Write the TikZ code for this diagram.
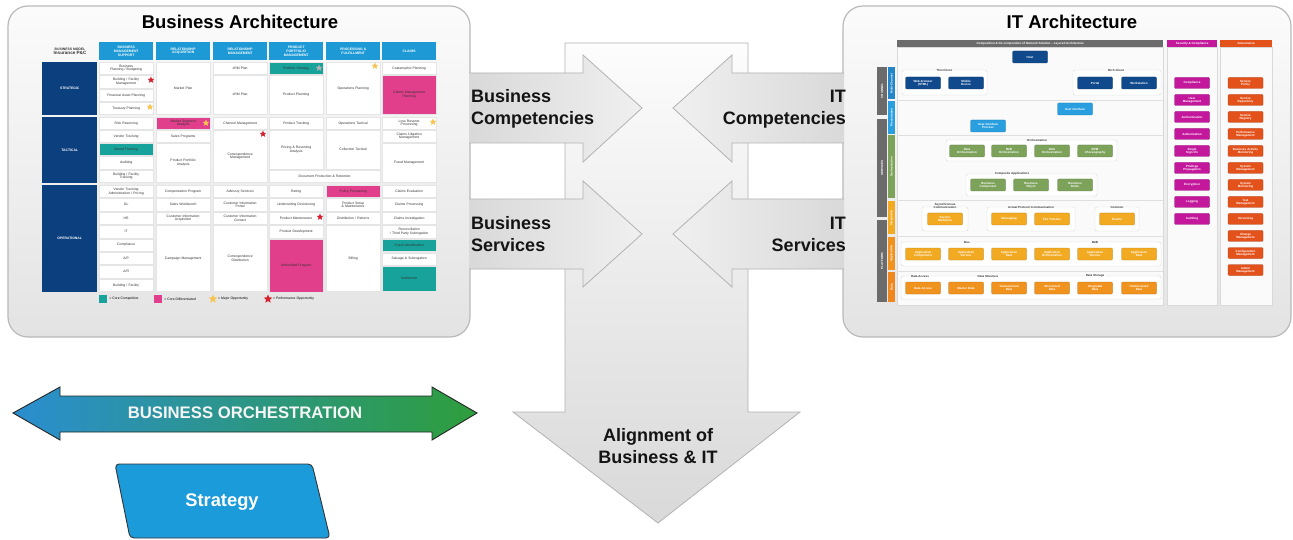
\documentclass[tikz,border=0pt]{standalone}
\usepackage{fontspec}
\setmainfont{Liberation Sans}
\usetikzlibrary{shapes.geometric, positioning}

% colours
\definecolor{hdblue}{HTML}{1D9AD6}
\definecolor{navy}{HTML}{0C3F7E}
\definecolor{coreteal}{HTML}{17A39B}
\definecolor{corepink}{HTML}{E13F8B}
\definecolor{staryellow}{HTML}{F6C453}
\definecolor{starred}{HTML}{D5202E}
\definecolor{itgrey}{HTML}{6B6B6B}
\definecolor{itnavy}{HTML}{114A8C}
\definecolor{itsky}{HTML}{2A9FE0}
\definecolor{itgreen}{HTML}{7DA25A}
\definecolor{itamber}{HTML}{F2AA22}
\definecolor{itorange}{HTML}{F0921E}
\definecolor{itmagenta}{HTML}{C3179C}
\definecolor{itred}{HTML}{E4521B}
\definecolor{orchblue}{HTML}{2A8ED0}
\definecolor{orchgreen}{HTML}{2E9E3C}
\definecolor{stratblue}{HTML}{1C9BDB}

\newcommand{\cellfont}{\fontsize{3.4}{3.9}\selectfont}
\newcommand{\boxfont}{\fontsize{3}{3.4}\selectfont\bfseries}

\begin{document}
\begin{tikzpicture}[
    x=1pt, y=-1pt,
    panel/.style={draw=gray!55, line width=1.2pt, rounded corners=20pt, top color=gray!3, bottom color=gray!22},
    flowarrow/.style={draw=gray!60, line width=0.8pt},
    bigtitle/.style={font=\fontsize{18.5}{20}\selectfont\bfseries},
    arrowtext/.style={font=\fontsize{18}{22}\selectfont\bfseries, text=black!92, inner sep=0pt},
    bhead/.style={fill=hdblue, text=white, font=\cellfont\bfseries, minimum width=54pt, minimum height=18pt, text width=52pt, align=center, inner sep=0pt, anchor=north west},
    bcell/.style={fill=white, draw=gray!20, line width=0.3pt, font=\cellfont, text=black!80, minimum width=54pt, text width=50pt, align=center, inner sep=0pt, anchor=north west},
    bside/.style={fill=navy, text=white, font=\cellfont\bfseries, minimum width=55pt, inner sep=0pt, anchor=north west},
    starmark/.style={star, star points=5, star point ratio=2.2, minimum size=7pt, inner sep=0pt, fill=#1},
    legbox/.style={fill=#1, minimum size=8pt, inner sep=0pt},
    legtext/.style={font=\cellfont, anchor=west, inner sep=1pt},
    ithead/.style={text=white, font=\boxfont, minimum height=7pt, inner sep=0pt, anchor=north west},
    itframe/.style={draw=gray!30, fill=white!96!gray},
    itbar/.style={rotate=90, text=white, font=\boxfont, inner sep=0pt},
    itbox/.style={fill=#1, draw=#1!75!black, line width=0.3pt, text=white, font=\boxfont, minimum width=35pt, minimum height=12pt, text width=33pt, align=center, inner sep=0pt, rounded corners=1pt},
    itgroup/.style={draw=gray!30, fill=white, rounded corners=2pt},
    grouplbl/.style={font=\boxfont, text=black!80, inner sep=0.6pt, fill=white, align=center}
]
\useasboundingbox (0,0) rectangle (1293,540);

% Alignment arrow (centre, behind)
\draw[flowarrow, top color=gray!2, bottom color=gray!30] (565,43) -- (748,43) -- (748,412) -- (800,412) -- (658,523) -- (513,412) -- (565,412) -- cycle;

% Panels
\path[panel] (8,6) rectangle (470,337);
\path[panel] (843,6) rectangle (1291,337);

% Side arrows
\draw[flowarrow, left color=gray!30, right color=gray!12] (469,73) -- (583,73) -- (583,55) -- (642,108) -- (583,162) -- (583,143) -- (469,143);
\draw[flowarrow, left color=gray!30, right color=gray!12] (469,199) -- (583,199) -- (583,181) -- (642,234) -- (583,287) -- (583,269) -- (469,269);
\draw[flowarrow, left color=gray!12, right color=gray!30] (844,73) -- (732,73) -- (732,55) -- (673,108) -- (732,162) -- (732,143) -- (844,143);
\draw[flowarrow, left color=gray!12, right color=gray!30] (844,199) -- (732,199) -- (732,181) -- (673,234) -- (732,287) -- (732,269) -- (844,269);

\node[arrowtext, anchor=west, align=left] (bcomp) at (471,109) {Business\\Competencies};
\node[arrowtext, anchor=west, align=left] (bserv) at (471,234) {Business\\Services};
\node[arrowtext, anchor=east, align=right] (itcomp) at (846,109) {IT\\Competencies};
\node[arrowtext, anchor=east, align=right] (itserv) at (846,234) {IT\\Services};
\node[arrowtext, align=center] (align) at (658,446) {Alignment of\\Business \& IT};

% Business Architecture
\node[bigtitle] (batitle) at (240,22) {Business Architecture};
\node[font=\cellfont\bfseries, align=center, text=black!80] (bmodel) at (70,51) {BUSINESS MODEL\\{\fontsize{4.6}{5.2}\selectfont Insurance P\&C}};

\node[bhead] (hd1) at (99,42) {BUSINESS\\MANAGEMENT\\SUPPORT};
\node[bhead] (hd2) at (156,42) {RELATIONSHIP\\ACQUISITION};
\node[bhead] (hd3) at (213,42) {RELATIONSHIP\\MANAGEMENT};
\node[bhead] (hd4) at (269,42) {PRODUCT\\PORTFOLIO\\MANAGEMENT};
\node[bhead] (hd5) at (326,42) {PROCESSING \&\\FULFILLMENT};
\node[bhead] (hd6) at (382,42) {CLAIMS};

\node[bside, minimum height=53pt] (strategic) at (42,62) {STRATEGIC};
\node[bside, minimum height=66pt] (tactical) at (42,117) {TACTICAL};
\node[bside, minimum height=107pt] (operational) at (42,185) {OPERATIONAL};

% business management support
\node[bcell, minimum height=12pt] (bms1) at (99,62) {Business\\Planning / Budgeting};
\node[bcell, minimum height=13pt] (bms2) at (99,75) {Building / Facility\\Management};
\node[bcell, minimum height=12pt] (bms3) at (99,89) {Financial Asset Planning};
\node[bcell, minimum height=12pt] (bms4) at (99,102) {Treasury Planning};
\node[bcell, minimum height=12pt] (bms5) at (99,117) {Risk Reserving};
\node[bcell, minimum height=12pt] (bms6) at (99,130) {Vendor Tracking};
\node[bcell, fill=coreteal, minimum height=12pt] (bms7) at (99,143) {Brand Tracking};
\node[bcell, minimum height=13pt] (bms8) at (99,156) {Auditing};
\node[bcell, minimum height=12pt] (bms9) at (99,170) {Building / Facility\\Tracking};
\foreach \t [count=\i from 0] in {{Vendor Tracking\\Administration / Pricing}, GL, HR, IT, Compliance, A/P, A/R, {Building / Facility}}
  \node[bcell, minimum height=12.4pt] (bmsop\i) at (99,185+13.4*\i) {\t};

% relationship acquisition
\node[bcell, minimum height=52pt] (bra1) at (156,62) {Market Plan};
\node[bcell, fill=corepink, minimum height=12pt] (bra2) at (156,117) {Market Segment\\Analysis};
\node[bcell, minimum height=12pt] (bra3) at (156,130) {Sales Programs};
\node[bcell, minimum height=39pt] (bra4) at (156,143) {Product Portfolio\\Analysis};
\node[bcell, minimum height=12.4pt] (bra5) at (156,185) {Compensation Program};
\node[bcell, minimum height=12.4pt] (bra6) at (156,198.4) {Sales Workbench};
\node[bcell, minimum height=12.4pt] (bra7) at (156,211.8) {Customer Information\\Acquisition};
\node[bcell, minimum height=66pt] (bra8) at (156,225.2) {Campaign Management};

% relationship management
\node[bcell, minimum height=12pt] (brm1) at (213,62) {xRM Plan};
\node[bcell, minimum height=39pt] (brm2) at (213,75) {xRM Plan};
\node[bcell, minimum height=12pt] (brm3) at (213,117) {Channel Management};
\node[bcell, minimum height=52pt] (brm4) at (213,130) {Correspondence\\Management};
\node[bcell, minimum height=12.4pt] (brm5) at (213,185) {Advisory Services};
\node[bcell, minimum height=12.4pt] (brm6) at (213,198.4) {Customer Information\\Portal};
\node[bcell, minimum height=12.4pt] (brm7) at (213,211.8) {Customer Information\\Contact};
\node[bcell, minimum height=66pt] (brm8) at (213,225.2) {Correspondence\\Distribution};

% product portfolio management
\node[bcell, fill=coreteal, minimum height=12pt] (ppm1) at (269,62) {Portfolio Strategy};
\node[bcell, minimum height=39pt] (ppm2) at (269,75) {Product Planning};
\node[bcell, minimum height=12pt] (ppm3) at (269,117) {Product Tracking};
\node[bcell, minimum height=39pt] (ppm4) at (269,130) {Pricing \& Reserving\\Analysis};
\node[bcell, minimum height=12pt, minimum width=111pt, text width=105pt] (ppm5) at (269,170) {Document Production \& Retention};
\node[bcell, minimum height=12.4pt] (ppm6) at (269,185) {Rating};
\node[bcell, minimum height=12.4pt] (ppm7) at (269,198.4) {Underwriting Decisioning};
\node[bcell, minimum height=12.4pt] (ppm8) at (269,211.8) {Product Maintenance};
\node[bcell, minimum height=12.4pt] (ppm9) at (269,225.2) {Product Development};
\node[bcell, fill=corepink, minimum height=53pt] (ppm10) at (269,239) {Unbundled Program};

% processing & fulfillment
\node[bcell, minimum height=52pt] (prf1) at (326,62) {Operations Planning};
\node[bcell, minimum height=12pt] (prf2) at (326,117) {Operations Tactical};
\node[bcell, minimum height=39pt] (prf3) at (326,130) {Collection Tactical};
\node[bcell, fill=corepink, minimum height=12.4pt] (prf4) at (326,185) {Policy Processing};
\node[bcell, minimum height=12.4pt] (prf5) at (326,198.4) {Product Setup\\\& Maintenance};
\node[bcell, minimum height=12.4pt] (prf6) at (326,211.8) {Distribution / Returns};
\node[bcell, minimum height=66pt] (prf7) at (326,225.2) {Billing};

% claims
\node[bcell, minimum height=12pt] (clm1) at (382,62) {Catastrophic Planning};
\node[bcell, fill=corepink, minimum height=39pt] (clm2) at (382,75) {Claims Management\\Planning};
\node[bcell, minimum height=12pt] (clm3) at (382,117) {Loss Reserve\\Processing};
\node[bcell, minimum height=12pt] (clm4) at (382,130) {Claims Litigation\\Management};
\node[bcell, minimum height=39pt] (clm5) at (382,143) {Fraud Management};
\node[bcell, minimum height=12.4pt] (clm6) at (382,185) {Claims Evaluation};
\node[bcell, minimum height=12.4pt] (clm7) at (382,198.4) {Claims Processing};
\node[bcell, minimum height=12.4pt] (clm8) at (382,211.8) {Claims Investigation};
\node[bcell, minimum height=12.4pt] (clm9) at (382,225.2) {Reconciliation\\/ Third Party Subrogation};
\node[bcell, fill=coreteal, minimum height=12pt] (clm10) at (382,239) {Fraud Identification};
\node[bcell, minimum height=12pt] (clm11) at (382,252.5) {Salvage \& Subrogation};
\node[bcell, fill=coreteal, minimum height=25pt] (clm12) at (382,266) {Settlement};

% opportunity marks
\node[starmark=starred] (st1) at (151,80) {};
\node[starmark=staryellow] (st2) at (150,107) {};
\node[starmark=staryellow] (st3) at (206,123) {};
\node[starmark=starred] (st4) at (263,134) {};
\node[starmark=gray!60] (st5) at (319,68) {};
\node[starmark=staryellow] (st6) at (375,66) {};
\node[starmark=staryellow] (st7) at (433,122) {};
\node[starmark=starred] (st8) at (320,217) {};

% legend
\node[legbox=coreteal] (lg1) at (103,299) {};
\node[legtext, right=1pt of lg1] (lgt1) {= Core Competitive};
\node[legbox=corepink] (lg2) at (158,299) {};
\node[legtext, right=1pt of lg2] (lgt2) {= Core Differentiated};
\node[starmark=staryellow, minimum size=9pt] (lg3) at (213,299) {};
\node[legtext, right=1pt of lg3] (lgt3) {= Major Opportunity};
\node[starmark=starred, minimum size=9pt] (lg4) at (268,299) {};
\node[legtext, right=1pt of lg4] (lgt4) {= Performance Opportunity};

% IT Architecture
\node[bigtitle] (ittitle) at (1072,22) {IT Architecture};
\node[ithead, fill=itgrey, minimum width=266pt] (ithd) at (897,40) {Composition \& De-composition of Network Solution -- Layered Architecture};
\node[ithead, fill=itmagenta, minimum width=50pt] (sechd) at (1167,40) {Security \& Compliance};
\node[ithead, fill=itred, minimum width=52pt] (govhd) at (1220,40) {Governance};
\path[itframe] (897,47) rectangle (1163,305);
\path[itframe] (1167,47) rectangle (1217,305);
\path[itframe] (1220,47) rectangle (1272,305);
\foreach \y in {100,135,200,236,271}
  \draw[gray!25] (897,\y) -- (1163,\y);

% layer bars
\node[itbar, fill=itgrey, minimum width=48pt, minimum height=10pt] (lay1) at (882,91) {CHANNEL};
\node[itbar, fill=itgrey, minimum width=98pt, minimum height=10pt] (lay2) at (882,168) {SERVICES};
\node[itbar, fill=itgrey, minimum width=82pt, minimum height=10pt] (lay3) at (882,261) {PLATFORM};
\node[itbar, fill=itsky!70!itnavy, minimum width=32pt, minimum height=7pt] (bar1) at (891.5,83.5) {Multi-Channel};
\node[itbar, fill=itsky, minimum width=33pt, minimum height=7pt] (bar2) at (891.5,117.5) {Presentation};
\node[itbar, fill=itgreen, minimum width=63pt, minimum height=7pt] (bar3) at (891.5,167) {Orchestration};
\node[itbar, fill=itamber, minimum width=33pt, minimum height=7pt] (bar4) at (891.5,218) {Integration};
\node[itbar, fill=itorange, minimum width=32pt, minimum height=7pt] (bar5) at (891.5,253.5) {Application};
\node[itbar, fill=itorange!85!itred, minimum width=30pt, minimum height=7pt] (bar6) at (891.5,287) {Data};

% host and clients
\node[itbox=itnavy] (host) at (1030,57) {Host};
\path[itgroup] (902,70) rectangle (987,95);
\node[grouplbl] (thinlbl) at (944,70) {Thin Client};
\node[itbox=itnavy] (web) at (923,83) {Web-browser\\(HTML)};
\node[itbox=itnavy] (mobile) at (966,83) {Mobile\\Device};
\path[itgroup] (1073,70) rectangle (1161,95);
\node[grouplbl] (richlbl) at (1116,70) {Rich Client};
\node[itbox=itnavy] (portal) at (1095,83) {Portal};
\node[itbox=itnavy] (wstation) at (1139,83) {Workstation};

% presentation
\node[itbox=itsky] (uiface) at (1075,109) {User Interface};
\node[itbox=itsky] (uiproc) at (988,126) {User Interface\\Process};

% orchestration
\path[itgroup] (946,140) rectangle (1117,161);
\node[grouplbl] (orchlbl) at (1037,140) {Orchestration};
\node[itbox=itgreen] (dorch) at (967,151) {Data\\Orchestration};
\node[itbox=itgreen] (borch) at (1009,151) {B2B\\Orchestration};
\node[itbox=itgreen] (worch) at (1052,151) {Web\\Orchestration};
\node[itbox=itgreen] (bpm) at (1095,151) {BPM\\Choreography};
\path[itgroup] (966,174) rectangle (1097,196);
\node[grouplbl] (complbl) at (1012,174) {Composite Applications};
\node[itbox=itgreen] (bcompo) at (988,185) {Business\\Component};
\node[itbox=itgreen] (bobj) at (1031,185) {Business\\Object};
\node[itbox=itgreen] (brules) at (1075,185) {Business\\Rules};

% integration
\path[itgroup] (922,207) rectangle (968,231);
\node[grouplbl] (asynlbl) at (945,206) {Asynchronous\\Communication};
\node[itbox=itamber] (smed) at (945,219) {Service\\Mediation};
\path[itgroup] (987,207) rectangle (1075,231);
\node[grouplbl] (protlbl) at (1031,207) {Actual Protocol Communication};
\node[itbox=itamber] (msg) at (1009,219) {Messaging};
\node[itbox=itamber] (ftrans) at (1052,219) {File Transfer};
\path[itgroup] (1095,207) rectangle (1139,231);
\node[grouplbl] (commlbl) at (1117,207) {Common};
\node[itbox=itamber] (events) at (1117,219) {Events};

% application
\path[itgroup] (901,242) rectangle (1161,266);
\node[grouplbl] (buslbl) at (967,242) {Bus};
\node[grouplbl] (b2blbl) at (1095,242) {B2B};
\node[itbox=itamber] (acomp) at (923,254) {Application\\Components};
\node[itbox=itamber] (aserv1) at (966,254) {Application\\Service};
\node[itbox=itamber] (adata1) at (1009,254) {Application\\Data};
\node[itbox=itamber] (aorch) at (1052,254) {Application\\Orchestration};
\node[itbox=itamber] (aserv2) at (1095,254) {Application\\Service};
\node[itbox=itamber] (adata2) at (1139,254) {Application\\Data};

% data
\path[itgroup] (901,276) rectangle (1161,299);
\node[grouplbl] (dalbl) at (920,276) {Data Access};
\node[grouplbl] (dslbl) at (988,276) {Data Structure};
\node[grouplbl] (dstlbl) at (1095,276) {Data Storage};
\node[itbox=itorange] (dacc) at (923,288) {Data Access};
\node[itbox=itorange] (mdata) at (966,288) {Master Data};
\node[itbox=itorange] (tdata) at (1009,288) {Transactional\\Data};
\node[itbox=itorange] (sdata) at (1052,288) {Structured\\Data};
\node[itbox=itorange] (idata) at (1095,288) {Integrated\\Data};
\node[itbox=itorange] (udata) at (1139,288) {Unstructured\\Data};

% security & compliance
\foreach \t [count=\i from 0] in {Compliance, {User\\Management}, Authentication, Authorization, {Single\\Sign On}, {Privilege\\Propagation}, Encryption, Logging, Auditing}
  \node[itbox=itmagenta, minimum height=11pt] (sec\i) at (1192,83+17*\i) {\t};

% governance
\foreach \t [count=\i from 0] in {{Service\\Policy}, {Service\\Repository}, {Service\\Registry}, {Performance\\Management}, {Business Activity\\Monitoring}, {System\\Management}, {System\\Monitoring}, {Test\\Management}, Versioning, {Change\\Management}, {Configuration\\Management}, {Admin\\Management}}
  \node[itbox=itred, minimum height=11pt] (gov\i) at (1245.5,83+17*\i) {\t};

% Business orchestration
\draw[draw=gray!30!black, line width=0.9pt, left color=orchblue, right color=orchgreen] (13,413) -- (60,387) -- (60,396) -- (432,396) -- (432,387) -- (477,413) -- (432,440) -- (432,432) -- (60,432) -- (60,440) -- cycle;
\node[font=\fontsize{16.7}{18}\selectfont\bfseries, text=white!92!gray] (orch) at (245,413) {BUSINESS ORCHESTRATION};

% Strategy
\draw[draw=gray!40!black, line width=0.9pt, fill=stratblue, rounded corners=4pt] (115,464) -- (312,464) -- (330,538) -- (130,538) -- cycle;
\node[font=\fontsize{18.3}{20}\selectfont\bfseries, text=white] (strat) at (222,502) {Strategy};

\end{tikzpicture}
\end{document}
